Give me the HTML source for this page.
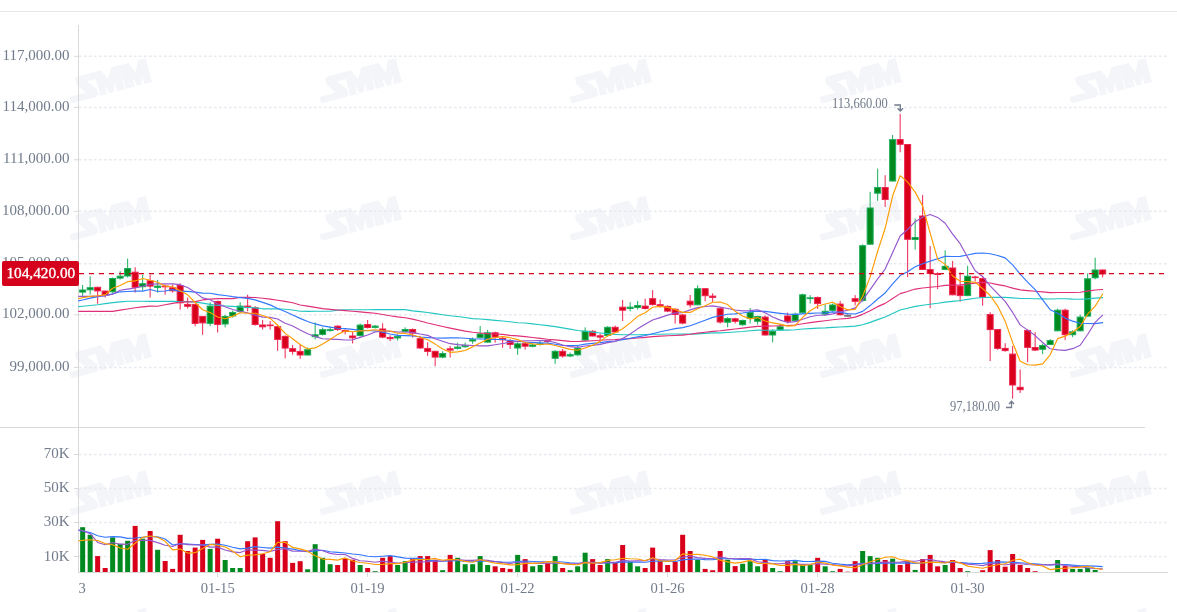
<!DOCTYPE html>
<html><head><meta charset="utf-8"><style>
html,body{margin:0;padding:0;background:#fff;width:1177px;height:612px;overflow:hidden}
svg{will-change:transform}
</style></head><body><div id="w">
<svg width="1177" height="612" viewBox="0 0 1177 612" style="display:block">
<rect width="1177" height="612" fill="#ffffff"/>
<defs><g id="wm"><path d="M-31,-13 L-7,-13 L-2,-2.7 L3.8,-13 L21.5,-13 L26.3,-2 L31.7,-13 L39.5,-13 L39.5,11.5 L-44,11.5 L-44,4.7 L-27.4,4.6 L-34,-6 L-34,-10 Q-34,-13 -31,-13 Z" fill="#f3f5f9"/><path d="M-22.9,-5.6 L-14,-5.8 L-14,11.6 L-15.6,11.6 L-15.6,3.8 Z M-15.2,6.5 Q-15.2,11.7 -21,11.7 L-15.2,11.7 Z M-44.2,11.7 L-44.2,9 L-43,11.7 Z M-7,2.2 L-4,11.6 L-7,11.6 Z M3.8,2.2 L3.8,11.6 L0,11.6 Z M12,-5.2 L12.8,11.6 L11.2,11.6 Z M21.5,2.1 L24.5,11.6 L21.5,11.6 Z M31.7,2.1 L31.7,11.6 L28.5,11.6 Z" fill="#ffffff"/></g></defs>
<use href="#wm" transform="translate(110.8,81) rotate(-15)"/>
<use href="#wm" transform="translate(360.8,81) rotate(-15)"/>
<use href="#wm" transform="translate(610.8,81) rotate(-15)"/>
<use href="#wm" transform="translate(860.8,81) rotate(-15)"/>
<use href="#wm" transform="translate(1110.8,81) rotate(-15)"/>
<use href="#wm" transform="translate(110.8,218.5) rotate(-15)"/>
<use href="#wm" transform="translate(360.8,218.5) rotate(-15)"/>
<use href="#wm" transform="translate(610.8,218.5) rotate(-15)"/>
<use href="#wm" transform="translate(860.8,218.5) rotate(-15)"/>
<use href="#wm" transform="translate(1110.8,218.5) rotate(-15)"/>
<use href="#wm" transform="translate(110.8,356) rotate(-15)"/>
<use href="#wm" transform="translate(360.8,356) rotate(-15)"/>
<use href="#wm" transform="translate(610.8,356) rotate(-15)"/>
<use href="#wm" transform="translate(860.8,356) rotate(-15)"/>
<use href="#wm" transform="translate(1110.8,356) rotate(-15)"/>
<use href="#wm" transform="translate(110.8,493) rotate(-15)"/>
<use href="#wm" transform="translate(360.8,493) rotate(-15)"/>
<use href="#wm" transform="translate(610.8,493) rotate(-15)"/>
<use href="#wm" transform="translate(860.8,493) rotate(-15)"/>
<use href="#wm" transform="translate(1110.8,493) rotate(-15)"/>
<use href="#wm" transform="translate(110.8,630.5) rotate(-15)"/>
<use href="#wm" transform="translate(360.8,630.5) rotate(-15)"/>
<use href="#wm" transform="translate(610.8,630.5) rotate(-15)"/>
<use href="#wm" transform="translate(860.8,630.5) rotate(-15)"/>
<use href="#wm" transform="translate(1110.8,630.5) rotate(-15)"/>
<rect x="0" y="11" width="1177" height="1" fill="#e6e6e6"/>
<g stroke="#e6e9ef" stroke-width="1.5" stroke-dasharray="2.6 2.4">
<line x1="79" y1="367.4" x2="1167" y2="367.4"/>
<line x1="79" y1="314.8" x2="1167" y2="314.8"/>
<line x1="79" y1="263.7" x2="1167" y2="263.7"/>
<line x1="79" y1="211.3" x2="1167" y2="211.3"/>
<line x1="79" y1="159.8" x2="1167" y2="159.8"/>
<line x1="79" y1="107.4" x2="1167" y2="107.4"/>
<line x1="79" y1="56.3" x2="1167" y2="56.3"/>
<line x1="79" y1="556.5" x2="1167" y2="556.5"/>
<line x1="79" y1="522.5" x2="1167" y2="522.5"/>
<line x1="79" y1="488.5" x2="1167" y2="488.5"/>
<line x1="79" y1="454.5" x2="1167" y2="454.5"/>
</g>
<g stroke="#d9d9d9" stroke-width="1">
<line x1="78.5" y1="25" x2="78.5" y2="573"/>
<line x1="0" y1="427.5" x2="1145" y2="427.5"/>
<line x1="78" y1="572.5" x2="1168" y2="572.5"/>
<line x1="74" y1="367.4" x2="78" y2="367.4"/>
<line x1="74" y1="314.8" x2="78" y2="314.8"/>
<line x1="74" y1="263.7" x2="78" y2="263.7"/>
<line x1="74" y1="211.3" x2="78" y2="211.3"/>
<line x1="74" y1="159.8" x2="78" y2="159.8"/>
<line x1="74" y1="107.4" x2="78" y2="107.4"/>
<line x1="74" y1="56.3" x2="78" y2="56.3"/>
<line x1="74" y1="556.5" x2="78" y2="556.5"/>
<line x1="74" y1="522.5" x2="78" y2="522.5"/>
<line x1="74" y1="488.5" x2="78" y2="488.5"/>
<line x1="74" y1="454.5" x2="78" y2="454.5"/>
<line x1="217.50" y1="573" x2="217.50" y2="577"/>
<line x1="367.50" y1="573" x2="367.50" y2="577"/>
<line x1="517.50" y1="573" x2="517.50" y2="577"/>
<line x1="667.50" y1="573" x2="667.50" y2="577"/>
<line x1="817.50" y1="573" x2="817.50" y2="577"/>
<line x1="967.50" y1="573" x2="967.50" y2="577"/>
</g>
<g fill="#717b8b" font-family="Liberation Serif, serif" font-size="15" text-anchor="end">
<text x="69.5" y="370.8">99,000.00</text>
<text x="69.5" y="318.2">102,000.00</text>
<text x="69.5" y="267.1">105,000.00</text>
<text x="69.5" y="214.7">108,000.00</text>
<text x="69.5" y="163.2">111,000.00</text>
<text x="69.5" y="110.8">114,000.00</text>
<text x="69.5" y="59.7">117,000.00</text>
<text x="69.5" y="560.5">10K</text>
<text x="69.5" y="526.4">30K</text>
<text x="69.5" y="492.2">50K</text>
<text x="69.5" y="458.0">70K</text>
</g>
<g fill="#717b8b" font-family="Liberation Serif, serif" font-size="14.6" text-anchor="middle">
<text x="217.7" y="592.5">01-15</text>
<text x="367.6" y="592.5">01-19</text>
<text x="517.6" y="592.5">01-22</text>
<text x="667.6" y="592.5">01-26</text>
<text x="817.6" y="592.5">01-28</text>
<text x="967.6" y="592.5">01-30</text>
<text x="78.5" y="592.5" text-anchor="start">3</text>
</g>
<g>
<line x1="82.65" y1="284.9" x2="82.65" y2="295.8" stroke="#1aae5c" stroke-width="1"/>
<rect x="79.65" y="290.00" width="6.0" height="2.10" fill="#00891e" stroke="#1aae5c" stroke-width="1"/>
<line x1="90.15" y1="276.3" x2="90.15" y2="294.6" stroke="#1aae5c" stroke-width="1"/>
<rect x="87.15" y="287.70" width="6.0" height="2.10" fill="#00891e" stroke="#1aae5c" stroke-width="1"/>
<line x1="97.65" y1="286.8" x2="97.65" y2="303.8" stroke="#ee2450" stroke-width="1"/>
<rect x="94.65" y="287.30" width="6.0" height="3.60" fill="#d8001a" stroke="#ee2450" stroke-width="1"/>
<line x1="105.15" y1="290.6" x2="105.15" y2="297.5" stroke="#ee2450" stroke-width="1"/>
<rect x="102.15" y="291.10" width="6.0" height="3.60" fill="#d8001a" stroke="#ee2450" stroke-width="1"/>
<line x1="112.65" y1="277.5" x2="112.65" y2="292.8" stroke="#1aae5c" stroke-width="1"/>
<rect x="109.65" y="278.50" width="6.0" height="13.30" fill="#00891e" stroke="#1aae5c" stroke-width="1"/>
<line x1="120.15" y1="271.2" x2="120.15" y2="279.5" stroke="#1aae5c" stroke-width="1"/>
<rect x="117.15" y="276.20" width="6.0" height="1.90" fill="#00891e" stroke="#1aae5c" stroke-width="1"/>
<line x1="127.65" y1="258.6" x2="127.65" y2="277.5" stroke="#1aae5c" stroke-width="1"/>
<rect x="124.65" y="268.50" width="6.0" height="7.50" fill="#00891e" stroke="#1aae5c" stroke-width="1"/>
<line x1="135.15" y1="267.2" x2="135.15" y2="292.6" stroke="#ee2450" stroke-width="1"/>
<rect x="132.15" y="272.20" width="6.0" height="15.10" fill="#d8001a" stroke="#ee2450" stroke-width="1"/>
<line x1="142.65" y1="274.6" x2="142.65" y2="290.6" stroke="#1aae5c" stroke-width="1"/>
<rect x="139.65" y="283.70" width="6.0" height="3.00" fill="#00891e" stroke="#1aae5c" stroke-width="1"/>
<line x1="150.15" y1="274.6" x2="150.15" y2="297.5" stroke="#ee2450" stroke-width="1"/>
<rect x="147.15" y="280.80" width="6.0" height="5.30" fill="#d8001a" stroke="#ee2450" stroke-width="1"/>
<line x1="157.65" y1="279.9" x2="157.65" y2="292.5" stroke="#1aae5c" stroke-width="1"/>
<rect x="154.65" y="286.10" width="6.0" height="1.30" fill="#00891e" stroke="#1aae5c" stroke-width="1"/>
<line x1="165.15" y1="284.5" x2="165.15" y2="294.7" stroke="#ee2450" stroke-width="1"/>
<rect x="162.15" y="286.10" width="6.0" height="0.70" fill="#d8001a" stroke="#ee2450" stroke-width="1"/>
<line x1="172.65" y1="284.5" x2="172.65" y2="292.5" stroke="#ee2450" stroke-width="1"/>
<rect x="169.65" y="287.80" width="6.0" height="3.00" fill="#d8001a" stroke="#ee2450" stroke-width="1"/>
<line x1="180.15" y1="283.3" x2="180.15" y2="309.6" stroke="#ee2450" stroke-width="1"/>
<rect x="177.15" y="285.50" width="6.0" height="17.30" fill="#d8001a" stroke="#ee2450" stroke-width="1"/>
<line x1="187.65" y1="297.6" x2="187.65" y2="308.5" stroke="#ee2450" stroke-width="1"/>
<rect x="184.65" y="304.40" width="6.0" height="1.90" fill="#d8001a" stroke="#ee2450" stroke-width="1"/>
<line x1="195.15" y1="303.9" x2="195.15" y2="326.2" stroke="#ee2450" stroke-width="1"/>
<rect x="192.15" y="304.40" width="6.0" height="19.00" fill="#d8001a" stroke="#ee2450" stroke-width="1"/>
<line x1="202.65" y1="315.9" x2="202.65" y2="334.8" stroke="#ee2450" stroke-width="1"/>
<rect x="199.65" y="316.40" width="6.0" height="6.50" fill="#d8001a" stroke="#ee2450" stroke-width="1"/>
<line x1="210.15" y1="302.2" x2="210.15" y2="326.2" stroke="#1aae5c" stroke-width="1"/>
<rect x="207.15" y="306.10" width="6.0" height="17.30" fill="#00891e" stroke="#1aae5c" stroke-width="1"/>
<line x1="217.65" y1="300.5" x2="217.65" y2="332.5" stroke="#ee2450" stroke-width="1"/>
<rect x="214.65" y="301.50" width="6.0" height="23.00" fill="#d8001a" stroke="#ee2450" stroke-width="1"/>
<line x1="225.15" y1="314.8" x2="225.15" y2="327.4" stroke="#1aae5c" stroke-width="1"/>
<rect x="222.15" y="316.40" width="6.0" height="7.60" fill="#00891e" stroke="#1aae5c" stroke-width="1"/>
<line x1="232.65" y1="310.7" x2="232.65" y2="317.6" stroke="#1aae5c" stroke-width="1"/>
<rect x="229.65" y="312.40" width="6.0" height="3.60" fill="#00891e" stroke="#1aae5c" stroke-width="1"/>
<line x1="240.15" y1="302.2" x2="240.15" y2="313.0" stroke="#1aae5c" stroke-width="1"/>
<rect x="237.15" y="306.10" width="6.0" height="5.30" fill="#00891e" stroke="#1aae5c" stroke-width="1"/>
<line x1="247.65" y1="294.7" x2="247.65" y2="311.3" stroke="#ee2450" stroke-width="1"/>
<rect x="244.65" y="306.10" width="6.0" height="1.30" fill="#d8001a" stroke="#ee2450" stroke-width="1"/>
<line x1="255.15" y1="306.2" x2="255.15" y2="325.6" stroke="#ee2450" stroke-width="1"/>
<rect x="252.15" y="307.80" width="6.0" height="16.70" fill="#d8001a" stroke="#ee2450" stroke-width="1"/>
<line x1="262.65" y1="319.9" x2="262.65" y2="329.6" stroke="#ee2450" stroke-width="1"/>
<rect x="259.65" y="325.00" width="6.0" height="1.80" fill="#d8001a" stroke="#ee2450" stroke-width="1"/>
<line x1="270.15" y1="321.0" x2="270.15" y2="329.6" stroke="#ee2450" stroke-width="1"/>
<rect x="267.15" y="325.00" width="6.0" height="0.70" fill="#d8001a" stroke="#ee2450" stroke-width="1"/>
<line x1="277.65" y1="325.6" x2="277.65" y2="350.8" stroke="#ee2450" stroke-width="1"/>
<rect x="274.65" y="326.70" width="6.0" height="12.70" fill="#d8001a" stroke="#ee2450" stroke-width="1"/>
<line x1="285.15" y1="335.3" x2="285.15" y2="358.4" stroke="#ee2450" stroke-width="1"/>
<rect x="282.15" y="336.40" width="6.0" height="11.70" fill="#d8001a" stroke="#ee2450" stroke-width="1"/>
<line x1="292.65" y1="345.0" x2="292.65" y2="354.7" stroke="#ee2450" stroke-width="1"/>
<rect x="289.65" y="348.70" width="6.0" height="2.70" fill="#d8001a" stroke="#ee2450" stroke-width="1"/>
<line x1="300.15" y1="344.6" x2="300.15" y2="358.9" stroke="#ee2450" stroke-width="1"/>
<rect x="297.15" y="351.40" width="6.0" height="3.60" fill="#d8001a" stroke="#ee2450" stroke-width="1"/>
<line x1="307.65" y1="347.5" x2="307.65" y2="355.5" stroke="#1aae5c" stroke-width="1"/>
<rect x="304.65" y="349.70" width="6.0" height="5.30" fill="#00891e" stroke="#1aae5c" stroke-width="1"/>
<line x1="315.15" y1="322.3" x2="315.15" y2="339.5" stroke="#1aae5c" stroke-width="1"/>
<rect x="312.15" y="334.80" width="6.0" height="1.90" fill="#00891e" stroke="#1aae5c" stroke-width="1"/>
<line x1="322.65" y1="327.5" x2="322.65" y2="335.5" stroke="#1aae5c" stroke-width="1"/>
<rect x="319.65" y="329.70" width="6.0" height="4.70" fill="#00891e" stroke="#1aae5c" stroke-width="1"/>
<line x1="330.15" y1="326.9" x2="330.15" y2="331.5" stroke="#1aae5c" stroke-width="1"/>
<rect x="327.15" y="329.70" width="6.0" height="0.90" fill="#00891e" stroke="#1aae5c" stroke-width="1"/>
<line x1="337.65" y1="325.2" x2="337.65" y2="330.9" stroke="#ee2450" stroke-width="1"/>
<rect x="334.65" y="326.20" width="6.0" height="3.30" fill="#d8001a" stroke="#ee2450" stroke-width="1"/>
<line x1="345.15" y1="329.2" x2="345.15" y2="334.3" stroke="#ee2450" stroke-width="1"/>
<rect x="342.15" y="330.50" width="6.0" height="1.00" fill="#d8001a" stroke="#ee2450" stroke-width="1"/>
<line x1="352.65" y1="332.0" x2="352.65" y2="343.5" stroke="#ee2450" stroke-width="1"/>
<rect x="349.65" y="336.00" width="6.0" height="1.80" fill="#d8001a" stroke="#ee2450" stroke-width="1"/>
<line x1="360.15" y1="323.5" x2="360.15" y2="336.6" stroke="#1aae5c" stroke-width="1"/>
<rect x="357.15" y="325.10" width="6.0" height="10.40" fill="#00891e" stroke="#1aae5c" stroke-width="1"/>
<line x1="367.65" y1="320.0" x2="367.65" y2="328.6" stroke="#ee2450" stroke-width="1"/>
<rect x="364.65" y="324.50" width="6.0" height="3.00" fill="#d8001a" stroke="#ee2450" stroke-width="1"/>
<line x1="375.15" y1="325.0" x2="375.15" y2="328.5" stroke="#1aae5c" stroke-width="1"/>
<rect x="372.15" y="326.10" width="6.0" height="1.30" fill="#00891e" stroke="#1aae5c" stroke-width="1"/>
<line x1="382.65" y1="323.3" x2="382.65" y2="338.2" stroke="#ee2450" stroke-width="1"/>
<rect x="379.65" y="329.00" width="6.0" height="8.10" fill="#d8001a" stroke="#ee2450" stroke-width="1"/>
<line x1="390.15" y1="335.3" x2="390.15" y2="341.0" stroke="#ee2450" stroke-width="1"/>
<rect x="387.15" y="337.50" width="6.0" height="1.10" fill="#d8001a" stroke="#ee2450" stroke-width="1"/>
<line x1="397.65" y1="334.2" x2="397.65" y2="340.5" stroke="#1aae5c" stroke-width="1"/>
<rect x="394.65" y="336.40" width="6.0" height="1.50" fill="#00891e" stroke="#1aae5c" stroke-width="1"/>
<line x1="405.15" y1="327.3" x2="405.15" y2="332.5" stroke="#1aae5c" stroke-width="1"/>
<rect x="402.15" y="329.50" width="6.0" height="1.90" fill="#00891e" stroke="#1aae5c" stroke-width="1"/>
<line x1="412.65" y1="328.5" x2="412.65" y2="337.6" stroke="#ee2450" stroke-width="1"/>
<rect x="409.65" y="329.50" width="6.0" height="3.60" fill="#d8001a" stroke="#ee2450" stroke-width="1"/>
<line x1="420.15" y1="335.9" x2="420.15" y2="349.0" stroke="#ee2450" stroke-width="1"/>
<rect x="417.15" y="338.70" width="6.0" height="9.30" fill="#d8001a" stroke="#ee2450" stroke-width="1"/>
<line x1="427.65" y1="342.2" x2="427.65" y2="355.9" stroke="#ee2450" stroke-width="1"/>
<rect x="424.65" y="348.40" width="6.0" height="3.00" fill="#d8001a" stroke="#ee2450" stroke-width="1"/>
<line x1="435.15" y1="350.8" x2="435.15" y2="366.2" stroke="#ee2450" stroke-width="1"/>
<rect x="432.15" y="351.30" width="6.0" height="5.80" fill="#d8001a" stroke="#ee2450" stroke-width="1"/>
<line x1="442.65" y1="351.3" x2="442.65" y2="358.2" stroke="#1aae5c" stroke-width="1"/>
<rect x="439.65" y="353.50" width="6.0" height="3.60" fill="#00891e" stroke="#1aae5c" stroke-width="1"/>
<line x1="450.15" y1="346.0" x2="450.15" y2="357.5" stroke="#ee2450" stroke-width="1"/>
<rect x="447.15" y="348.80" width="6.0" height="1.30" fill="#d8001a" stroke="#ee2450" stroke-width="1"/>
<line x1="457.65" y1="342.6" x2="457.65" y2="349.5" stroke="#1aae5c" stroke-width="1"/>
<rect x="454.65" y="347.10" width="6.0" height="1.30" fill="#00891e" stroke="#1aae5c" stroke-width="1"/>
<line x1="465.15" y1="342.6" x2="465.15" y2="347.8" stroke="#1aae5c" stroke-width="1"/>
<rect x="462.15" y="345.40" width="6.0" height="1.30" fill="#00891e" stroke="#1aae5c" stroke-width="1"/>
<line x1="472.65" y1="337.5" x2="472.65" y2="343.8" stroke="#1aae5c" stroke-width="1"/>
<rect x="469.65" y="339.70" width="6.0" height="1.30" fill="#00891e" stroke="#1aae5c" stroke-width="1"/>
<line x1="480.15" y1="326.0" x2="480.15" y2="338.6" stroke="#1aae5c" stroke-width="1"/>
<rect x="477.15" y="334.00" width="6.0" height="3.50" fill="#00891e" stroke="#1aae5c" stroke-width="1"/>
<line x1="487.65" y1="330.0" x2="487.65" y2="342.6" stroke="#1aae5c" stroke-width="1"/>
<rect x="484.65" y="332.80" width="6.0" height="9.30" fill="#00891e" stroke="#1aae5c" stroke-width="1"/>
<line x1="495.15" y1="331.7" x2="495.15" y2="342.6" stroke="#ee2450" stroke-width="1"/>
<rect x="492.15" y="332.80" width="6.0" height="4.20" fill="#d8001a" stroke="#ee2450" stroke-width="1"/>
<line x1="502.65" y1="336.9" x2="502.65" y2="347.8" stroke="#ee2450" stroke-width="1"/>
<rect x="499.65" y="338.50" width="6.0" height="1.30" fill="#d8001a" stroke="#ee2450" stroke-width="1"/>
<line x1="510.15" y1="339.2" x2="510.15" y2="348.9" stroke="#ee2450" stroke-width="1"/>
<rect x="507.15" y="340.80" width="6.0" height="3.60" fill="#d8001a" stroke="#ee2450" stroke-width="1"/>
<line x1="517.65" y1="342.2" x2="517.65" y2="354.8" stroke="#1aae5c" stroke-width="1"/>
<rect x="514.65" y="343.80" width="6.0" height="4.20" fill="#00891e" stroke="#1aae5c" stroke-width="1"/>
<line x1="525.15" y1="343.0" x2="525.15" y2="349.6" stroke="#ee2450" stroke-width="1"/>
<rect x="522.15" y="343.70" width="6.0" height="2.50" fill="#d8001a" stroke="#ee2450" stroke-width="1"/>
<line x1="532.65" y1="343.9" x2="532.65" y2="347.3" stroke="#1aae5c" stroke-width="1"/>
<rect x="529.65" y="345.00" width="6.0" height="1.30" fill="#00891e" stroke="#1aae5c" stroke-width="1"/>
<line x1="540.15" y1="341.0" x2="540.15" y2="345.6" stroke="#1aae5c" stroke-width="1"/>
<rect x="537.15" y="343.80" width="6.0" height="0.70" fill="#00891e" stroke="#1aae5c" stroke-width="1"/>
<line x1="547.65" y1="339.8" x2="547.65" y2="343.0" stroke="#ee2450" stroke-width="1"/>
<rect x="544.65" y="340.70" width="6.0" height="0.80" fill="#d8001a" stroke="#ee2450" stroke-width="1"/>
<line x1="555.15" y1="350.2" x2="555.15" y2="363.9" stroke="#1aae5c" stroke-width="1"/>
<rect x="552.15" y="351.30" width="6.0" height="7.00" fill="#00891e" stroke="#1aae5c" stroke-width="1"/>
<line x1="562.65" y1="349.0" x2="562.65" y2="357.6" stroke="#ee2450" stroke-width="1"/>
<rect x="559.65" y="351.30" width="6.0" height="4.70" fill="#d8001a" stroke="#ee2450" stroke-width="1"/>
<line x1="570.15" y1="352.5" x2="570.15" y2="357.1" stroke="#1aae5c" stroke-width="1"/>
<rect x="567.15" y="354.70" width="6.0" height="1.30" fill="#00891e" stroke="#1aae5c" stroke-width="1"/>
<line x1="577.65" y1="345.6" x2="577.65" y2="355.9" stroke="#1aae5c" stroke-width="1"/>
<rect x="574.65" y="348.40" width="6.0" height="6.40" fill="#00891e" stroke="#1aae5c" stroke-width="1"/>
<line x1="585.15" y1="327.3" x2="585.15" y2="341.0" stroke="#1aae5c" stroke-width="1"/>
<rect x="582.15" y="331.20" width="6.0" height="8.80" fill="#00891e" stroke="#1aae5c" stroke-width="1"/>
<line x1="592.65" y1="330.2" x2="592.65" y2="336.5" stroke="#ee2450" stroke-width="1"/>
<rect x="589.65" y="331.30" width="6.0" height="4.70" fill="#d8001a" stroke="#ee2450" stroke-width="1"/>
<line x1="600.15" y1="333.6" x2="600.15" y2="340.5" stroke="#ee2450" stroke-width="1"/>
<rect x="597.15" y="335.80" width="6.0" height="1.30" fill="#d8001a" stroke="#ee2450" stroke-width="1"/>
<line x1="607.65" y1="326.2" x2="607.65" y2="336.5" stroke="#1aae5c" stroke-width="1"/>
<rect x="604.65" y="327.30" width="6.0" height="8.10" fill="#00891e" stroke="#1aae5c" stroke-width="1"/>
<line x1="615.15" y1="325.6" x2="615.15" y2="332.5" stroke="#ee2450" stroke-width="1"/>
<rect x="612.15" y="327.30" width="6.0" height="4.70" fill="#d8001a" stroke="#ee2450" stroke-width="1"/>
<line x1="622.65" y1="299.9" x2="622.65" y2="321.0" stroke="#ee2450" stroke-width="1"/>
<rect x="619.65" y="307.20" width="6.0" height="3.00" fill="#d8001a" stroke="#ee2450" stroke-width="1"/>
<line x1="630.15" y1="302.2" x2="630.15" y2="311.3" stroke="#1aae5c" stroke-width="1"/>
<rect x="627.15" y="307.20" width="6.0" height="1.30" fill="#00891e" stroke="#1aae5c" stroke-width="1"/>
<line x1="637.65" y1="301.0" x2="637.65" y2="309.6" stroke="#1aae5c" stroke-width="1"/>
<rect x="634.65" y="305.50" width="6.0" height="1.90" fill="#00891e" stroke="#1aae5c" stroke-width="1"/>
<line x1="645.15" y1="298.7" x2="645.15" y2="309.6" stroke="#ee2450" stroke-width="1"/>
<rect x="642.15" y="306.10" width="6.0" height="2.40" fill="#d8001a" stroke="#ee2450" stroke-width="1"/>
<line x1="652.65" y1="290.1" x2="652.65" y2="305.6" stroke="#ee2450" stroke-width="1"/>
<rect x="649.65" y="298.70" width="6.0" height="5.80" fill="#d8001a" stroke="#ee2450" stroke-width="1"/>
<line x1="660.15" y1="299.6" x2="660.15" y2="307.6" stroke="#ee2450" stroke-width="1"/>
<rect x="657.15" y="304.70" width="6.0" height="1.30" fill="#d8001a" stroke="#ee2450" stroke-width="1"/>
<line x1="667.65" y1="305.3" x2="667.65" y2="312.2" stroke="#ee2450" stroke-width="1"/>
<rect x="664.65" y="306.40" width="6.0" height="4.70" fill="#d8001a" stroke="#ee2450" stroke-width="1"/>
<line x1="675.15" y1="308.2" x2="675.15" y2="323.6" stroke="#ee2450" stroke-width="1"/>
<rect x="672.15" y="309.30" width="6.0" height="5.20" fill="#d8001a" stroke="#ee2450" stroke-width="1"/>
<line x1="682.65" y1="313.9" x2="682.65" y2="324.2" stroke="#ee2450" stroke-width="1"/>
<rect x="679.65" y="315.00" width="6.0" height="8.10" fill="#d8001a" stroke="#ee2450" stroke-width="1"/>
<line x1="690.15" y1="295.0" x2="690.15" y2="307.6" stroke="#ee2450" stroke-width="1"/>
<rect x="687.15" y="301.20" width="6.0" height="3.60" fill="#d8001a" stroke="#ee2450" stroke-width="1"/>
<line x1="697.65" y1="285.3" x2="697.65" y2="305.3" stroke="#1aae5c" stroke-width="1"/>
<rect x="694.65" y="288.70" width="6.0" height="16.10" fill="#00891e" stroke="#1aae5c" stroke-width="1"/>
<line x1="705.15" y1="288.2" x2="705.15" y2="301.3" stroke="#ee2450" stroke-width="1"/>
<rect x="702.15" y="288.70" width="6.0" height="7.00" fill="#d8001a" stroke="#ee2450" stroke-width="1"/>
<line x1="712.65" y1="293.3" x2="712.65" y2="301.9" stroke="#ee2450" stroke-width="1"/>
<rect x="709.65" y="296.10" width="6.0" height="1.30" fill="#d8001a" stroke="#ee2450" stroke-width="1"/>
<line x1="720.15" y1="307.6" x2="720.15" y2="323.6" stroke="#ee2450" stroke-width="1"/>
<rect x="717.15" y="308.70" width="6.0" height="13.30" fill="#d8001a" stroke="#ee2450" stroke-width="1"/>
<line x1="727.65" y1="317.2" x2="727.65" y2="327.3" stroke="#1aae5c" stroke-width="1"/>
<rect x="724.65" y="318.60" width="6.0" height="3.60" fill="#00891e" stroke="#1aae5c" stroke-width="1"/>
<line x1="735.15" y1="317.8" x2="735.15" y2="323.5" stroke="#ee2450" stroke-width="1"/>
<rect x="732.15" y="318.80" width="6.0" height="2.50" fill="#d8001a" stroke="#ee2450" stroke-width="1"/>
<line x1="742.65" y1="319.5" x2="742.65" y2="325.8" stroke="#1aae5c" stroke-width="1"/>
<rect x="739.65" y="320.50" width="6.0" height="4.20" fill="#00891e" stroke="#1aae5c" stroke-width="1"/>
<line x1="750.15" y1="308.0" x2="750.15" y2="323.5" stroke="#1aae5c" stroke-width="1"/>
<rect x="747.15" y="312.50" width="6.0" height="5.90" fill="#00891e" stroke="#1aae5c" stroke-width="1"/>
<line x1="757.65" y1="315.5" x2="757.65" y2="324.6" stroke="#1aae5c" stroke-width="1"/>
<rect x="754.65" y="316.50" width="6.0" height="4.80" fill="#00891e" stroke="#1aae5c" stroke-width="1"/>
<line x1="765.15" y1="315.5" x2="765.15" y2="335.5" stroke="#ee2450" stroke-width="1"/>
<rect x="762.15" y="317.10" width="6.0" height="17.90" fill="#d8001a" stroke="#ee2450" stroke-width="1"/>
<line x1="772.65" y1="329.2" x2="772.65" y2="342.4" stroke="#1aae5c" stroke-width="1"/>
<rect x="769.65" y="331.40" width="6.0" height="3.60" fill="#00891e" stroke="#1aae5c" stroke-width="1"/>
<line x1="780.15" y1="324.0" x2="780.15" y2="330.9" stroke="#1aae5c" stroke-width="1"/>
<rect x="777.15" y="326.80" width="6.0" height="3.00" fill="#00891e" stroke="#1aae5c" stroke-width="1"/>
<line x1="787.65" y1="312.6" x2="787.65" y2="323.5" stroke="#ee2450" stroke-width="1"/>
<rect x="784.65" y="316.00" width="6.0" height="5.30" fill="#d8001a" stroke="#ee2450" stroke-width="1"/>
<line x1="795.15" y1="312.6" x2="795.15" y2="321.8" stroke="#1aae5c" stroke-width="1"/>
<rect x="792.15" y="314.30" width="6.0" height="6.40" fill="#00891e" stroke="#1aae5c" stroke-width="1"/>
<line x1="802.65" y1="293.7" x2="802.65" y2="313.2" stroke="#1aae5c" stroke-width="1"/>
<rect x="799.65" y="294.80" width="6.0" height="17.90" fill="#00891e" stroke="#1aae5c" stroke-width="1"/>
<line x1="810.15" y1="295.1" x2="810.15" y2="303.6" stroke="#1aae5c" stroke-width="1"/>
<rect x="807.15" y="297.80" width="6.0" height="0.80" fill="#00891e" stroke="#1aae5c" stroke-width="1"/>
<line x1="817.65" y1="296.4" x2="817.65" y2="309.0" stroke="#ee2450" stroke-width="1"/>
<rect x="814.65" y="297.50" width="6.0" height="6.10" fill="#d8001a" stroke="#ee2450" stroke-width="1"/>
<line x1="825.15" y1="304.5" x2="825.15" y2="315.5" stroke="#1aae5c" stroke-width="1"/>
<rect x="822.15" y="311.30" width="6.0" height="2.80" fill="#00891e" stroke="#1aae5c" stroke-width="1"/>
<line x1="832.65" y1="303.6" x2="832.65" y2="311.7" stroke="#1aae5c" stroke-width="1"/>
<rect x="829.65" y="305.00" width="6.0" height="5.30" fill="#00891e" stroke="#1aae5c" stroke-width="1"/>
<line x1="840.15" y1="300.9" x2="840.15" y2="315.3" stroke="#ee2450" stroke-width="1"/>
<rect x="837.15" y="304.10" width="6.0" height="10.70" fill="#d8001a" stroke="#ee2450" stroke-width="1"/>
<line x1="847.65" y1="314.2" x2="847.65" y2="317.0" stroke="#7a7a7a" stroke-width="1"/>
<rect x="844.65" y="315.20" width="6.0" height="1.00" fill="#7a7a7a" stroke="#7a7a7a" stroke-width="1"/>
<line x1="855.15" y1="295.1" x2="855.15" y2="305.4" stroke="#ee2450" stroke-width="1"/>
<rect x="852.15" y="298.70" width="6.0" height="2.60" fill="#d8001a" stroke="#ee2450" stroke-width="1"/>
<line x1="862.65" y1="244.3" x2="862.65" y2="301.8" stroke="#1aae5c" stroke-width="1"/>
<rect x="859.65" y="245.70" width="6.0" height="54.70" fill="#00891e" stroke="#1aae5c" stroke-width="1"/>
<line x1="870.15" y1="191.8" x2="870.15" y2="244.7" stroke="#1aae5c" stroke-width="1"/>
<rect x="867.15" y="208.00" width="6.0" height="36.20" fill="#00891e" stroke="#1aae5c" stroke-width="1"/>
<line x1="877.65" y1="168.6" x2="877.65" y2="200.8" stroke="#1aae5c" stroke-width="1"/>
<rect x="874.65" y="187.50" width="6.0" height="5.70" fill="#00891e" stroke="#1aae5c" stroke-width="1"/>
<line x1="885.15" y1="175.2" x2="885.15" y2="207.0" stroke="#ee2450" stroke-width="1"/>
<rect x="882.15" y="187.50" width="6.0" height="12.00" fill="#d8001a" stroke="#ee2450" stroke-width="1"/>
<line x1="892.65" y1="135.0" x2="892.65" y2="181.5" stroke="#1aae5c" stroke-width="1"/>
<rect x="889.65" y="139.60" width="6.0" height="41.40" fill="#00891e" stroke="#1aae5c" stroke-width="1"/>
<line x1="900.15" y1="113.8" x2="900.15" y2="152.2" stroke="#ee2450" stroke-width="1"/>
<rect x="897.15" y="139.60" width="6.0" height="4.70" fill="#d8001a" stroke="#ee2450" stroke-width="1"/>
<line x1="907.65" y1="144.0" x2="907.65" y2="277.2" stroke="#ee2450" stroke-width="1"/>
<rect x="904.65" y="144.50" width="6.0" height="94.80" fill="#d8001a" stroke="#ee2450" stroke-width="1"/>
<line x1="915.15" y1="218.5" x2="915.15" y2="249.6" stroke="#1aae5c" stroke-width="1"/>
<rect x="912.15" y="237.50" width="6.0" height="2.00" fill="#00891e" stroke="#1aae5c" stroke-width="1"/>
<line x1="922.65" y1="195.0" x2="922.65" y2="270.0" stroke="#ee2450" stroke-width="1"/>
<rect x="919.65" y="216.00" width="6.0" height="53.50" fill="#d8001a" stroke="#ee2450" stroke-width="1"/>
<line x1="930.15" y1="246.0" x2="930.15" y2="308.3" stroke="#ee2450" stroke-width="1"/>
<rect x="927.15" y="269.60" width="6.0" height="3.90" fill="#d8001a" stroke="#ee2450" stroke-width="1"/>
<line x1="937.65" y1="272.3" x2="937.65" y2="289.2" stroke="#ee2450" stroke-width="1"/>
<rect x="934.65" y="273.70" width="6.0" height="0.80" fill="#d8001a" stroke="#ee2450" stroke-width="1"/>
<line x1="945.15" y1="250.3" x2="945.15" y2="269.9" stroke="#1aae5c" stroke-width="1"/>
<rect x="942.15" y="266.30" width="6.0" height="3.10" fill="#00891e" stroke="#1aae5c" stroke-width="1"/>
<line x1="952.65" y1="261.0" x2="952.65" y2="295.3" stroke="#ee2450" stroke-width="1"/>
<rect x="949.65" y="268.00" width="6.0" height="26.80" fill="#d8001a" stroke="#ee2450" stroke-width="1"/>
<line x1="960.15" y1="272.4" x2="960.15" y2="301.8" stroke="#ee2450" stroke-width="1"/>
<rect x="957.15" y="286.00" width="6.0" height="9.60" fill="#d8001a" stroke="#ee2450" stroke-width="1"/>
<line x1="967.65" y1="265.8" x2="967.65" y2="296.1" stroke="#1aae5c" stroke-width="1"/>
<rect x="964.65" y="276.20" width="6.0" height="19.40" fill="#00891e" stroke="#1aae5c" stroke-width="1"/>
<line x1="975.15" y1="275.7" x2="975.15" y2="281.4" stroke="#ee2450" stroke-width="1"/>
<rect x="972.15" y="277.00" width="6.0" height="0.60" fill="#d8001a" stroke="#ee2450" stroke-width="1"/>
<line x1="982.65" y1="277.3" x2="982.65" y2="305.7" stroke="#ee2450" stroke-width="1"/>
<rect x="979.65" y="278.60" width="6.0" height="18.60" fill="#d8001a" stroke="#ee2450" stroke-width="1"/>
<line x1="990.15" y1="312.2" x2="990.15" y2="361.1" stroke="#ee2450" stroke-width="1"/>
<rect x="987.15" y="314.60" width="6.0" height="15.00" fill="#d8001a" stroke="#ee2450" stroke-width="1"/>
<line x1="997.65" y1="329.1" x2="997.65" y2="349.8" stroke="#ee2450" stroke-width="1"/>
<rect x="994.65" y="329.60" width="6.0" height="18.80" fill="#d8001a" stroke="#ee2450" stroke-width="1"/>
<line x1="1005.15" y1="343.2" x2="1005.15" y2="351.7" stroke="#ee2450" stroke-width="1"/>
<rect x="1002.15" y="348.40" width="6.0" height="2.20" fill="#d8001a" stroke="#ee2450" stroke-width="1"/>
<line x1="1012.65" y1="346.0" x2="1012.65" y2="398.7" stroke="#ee2450" stroke-width="1"/>
<rect x="1009.65" y="354.10" width="6.0" height="30.90" fill="#d8001a" stroke="#ee2450" stroke-width="1"/>
<line x1="1020.15" y1="369.5" x2="1020.15" y2="393.0" stroke="#ee2450" stroke-width="1"/>
<rect x="1017.15" y="387.30" width="6.0" height="2.40" fill="#d8001a" stroke="#ee2450" stroke-width="1"/>
<line x1="1027.65" y1="329.1" x2="1027.65" y2="362.0" stroke="#ee2450" stroke-width="1"/>
<rect x="1024.65" y="330.60" width="6.0" height="16.80" fill="#d8001a" stroke="#ee2450" stroke-width="1"/>
<line x1="1035.15" y1="332.2" x2="1035.15" y2="350.9" stroke="#ee2450" stroke-width="1"/>
<rect x="1032.15" y="347.50" width="6.0" height="2.60" fill="#d8001a" stroke="#ee2450" stroke-width="1"/>
<line x1="1042.65" y1="343.6" x2="1042.65" y2="354.2" stroke="#1aae5c" stroke-width="1"/>
<rect x="1039.65" y="345.50" width="6.0" height="3.80" fill="#00891e" stroke="#1aae5c" stroke-width="1"/>
<line x1="1050.15" y1="339.1" x2="1050.15" y2="345.0" stroke="#1aae5c" stroke-width="1"/>
<rect x="1047.15" y="340.60" width="6.0" height="3.90" fill="#00891e" stroke="#1aae5c" stroke-width="1"/>
<line x1="1057.65" y1="308.7" x2="1057.65" y2="331.3" stroke="#1aae5c" stroke-width="1"/>
<rect x="1054.65" y="310.20" width="6.0" height="20.60" fill="#00891e" stroke="#1aae5c" stroke-width="1"/>
<line x1="1065.15" y1="308.7" x2="1065.15" y2="340.1" stroke="#ee2450" stroke-width="1"/>
<rect x="1062.15" y="310.20" width="6.0" height="24.50" fill="#d8001a" stroke="#ee2450" stroke-width="1"/>
<line x1="1072.65" y1="330.3" x2="1072.65" y2="337.2" stroke="#1aae5c" stroke-width="1"/>
<rect x="1069.65" y="331.80" width="6.0" height="2.90" fill="#00891e" stroke="#1aae5c" stroke-width="1"/>
<line x1="1080.15" y1="314.6" x2="1080.15" y2="331.3" stroke="#1aae5c" stroke-width="1"/>
<rect x="1077.15" y="317.10" width="6.0" height="13.70" fill="#00891e" stroke="#1aae5c" stroke-width="1"/>
<line x1="1087.65" y1="273.4" x2="1087.65" y2="316.6" stroke="#1aae5c" stroke-width="1"/>
<rect x="1084.65" y="278.80" width="6.0" height="37.30" fill="#00891e" stroke="#1aae5c" stroke-width="1"/>
<line x1="1095.15" y1="257.7" x2="1095.15" y2="279.3" stroke="#1aae5c" stroke-width="1"/>
<rect x="1092.15" y="270.00" width="6.0" height="7.80" fill="#00891e" stroke="#1aae5c" stroke-width="1"/>
<line x1="1102.65" y1="269.5" x2="1102.65" y2="277.4" stroke="#ee2450" stroke-width="1"/>
<rect x="1099.65" y="270.00" width="6.0" height="3.90" fill="#d8001a" stroke="#ee2450" stroke-width="1"/>
</g>
<g fill="none" stroke-width="1.15" stroke-linejoin="round" stroke-linecap="round">
<path d="M78.60,306.64 L82.65,306.29 L90.15,305.54 L97.65,304.73 L105.15,303.66 L112.65,302.60 L120.15,301.85 L127.65,301.26 L135.15,301.28 L142.65,301.29 L150.15,301.31 L157.65,301.32 L165.15,301.35 L172.65,301.38 L180.15,301.50 L187.65,301.61 L195.15,301.82 L202.65,303.12 L210.15,304.39 L217.65,305.48 L225.15,305.95 L232.65,306.44 L240.15,306.98 L247.65,307.45 L255.15,307.82 L262.65,308.80 L270.15,308.80 L277.65,308.80 L285.15,309.21 L292.65,309.95 L300.15,311.26 L307.65,311.34 L315.15,311.30 L322.65,311.26 L330.15,311.22 L337.65,310.07 L345.15,309.73 L352.65,309.73 L360.15,309.73 L367.65,309.73 L375.15,309.68 L382.65,309.58 L390.15,309.58 L397.65,309.58 L405.15,309.62 L412.65,310.81 L420.15,311.56 L427.65,312.53 L435.15,313.66 L442.65,314.79 L450.15,315.79 L457.65,316.54 L465.15,317.50 L472.65,318.60 L480.15,318.97 L487.65,319.58 L495.15,320.37 L502.65,321.01 L510.15,321.79 L517.65,322.74 L525.15,322.95 L532.65,323.87 L540.15,324.80 L547.65,325.64 L555.15,326.57 L562.65,327.88 L570.15,329.19 L577.65,330.52 L585.15,331.23 L592.65,332.12 L600.15,332.97 L607.65,333.66 L615.15,334.41 L622.65,334.73 L630.15,334.79 L637.65,334.76 L645.15,334.51 L652.65,334.21 L660.15,334.22 L667.65,334.00 L675.15,333.98 L682.65,334.18 L690.15,334.17 L697.65,333.84 L705.15,333.36 L712.65,332.88 L720.15,332.81 L727.65,332.45 L735.15,332.00 L742.65,331.47 L750.15,330.75 L757.65,330.19 L765.15,330.21 L772.65,330.24 L780.15,330.19 L787.65,330.06 L795.15,329.75 L802.65,329.02 L810.15,328.56 L817.65,328.17 L825.15,327.92 L832.65,327.37 L840.15,326.97 L847.65,326.62 L855.15,326.16 L862.65,324.69 L870.15,322.34 L877.65,319.59 L885.15,316.97 L892.65,313.40 L900.15,309.97 L907.65,308.19 L915.15,306.39 L922.65,305.24 L930.15,304.25 L937.65,303.29 L945.15,302.10 L952.65,301.35 L960.15,300.53 L967.65,299.41 L975.15,298.26 L982.65,297.48 L990.15,297.26 L997.65,297.38 L1005.15,297.38 L1012.65,297.87 L1020.15,298.47 L1027.65,298.47 L1035.15,298.80 L1042.65,298.94 L1050.15,298.98 L1057.65,298.70 L1065.15,298.74 L1072.65,299.09 L1080.15,299.25 L1087.65,298.81 L1095.15,298.15 L1102.65,297.64" stroke="#22c6c2"/>
<path d="M78.60,311.44 L82.65,311.44 L90.15,311.44 L97.65,311.44 L105.15,311.44 L112.65,311.39 L120.15,310.19 L127.65,308.99 L135.15,307.79 L142.65,306.85 L150.15,306.09 L157.65,306.24 L165.15,304.81 L172.65,303.37 L180.15,302.17 L187.65,301.90 L195.15,301.64 L202.65,299.94 L210.15,299.18 L217.65,298.60 L225.15,298.52 L232.65,298.68 L240.15,297.36 L247.65,297.36 L255.15,297.54 L262.65,298.22 L270.15,299.09 L277.65,300.21 L285.15,301.34 L292.65,302.77 L300.15,305.04 L307.65,306.09 L315.15,307.34 L322.65,308.59 L330.15,309.34 L337.65,309.99 L345.15,310.64 L352.65,311.29 L360.15,311.94 L367.65,312.59 L375.15,313.27 L382.65,314.48 L390.15,315.77 L397.65,316.88 L405.15,317.73 L412.65,319.12 L420.15,320.94 L427.65,323.04 L435.15,324.78 L442.65,326.53 L450.15,328.13 L457.65,329.65 L465.15,331.09 L472.65,332.29 L480.15,333.04 L487.65,333.68 L495.15,334.02 L502.65,334.44 L510.15,335.43 L517.65,335.88 L525.15,336.65 L532.65,337.47 L540.15,338.41 L547.65,339.26 L555.15,339.91 L562.65,340.64 L570.15,341.34 L577.65,341.54 L585.15,341.09 L592.65,340.71 L600.15,340.26 L607.65,339.70 L615.15,339.66 L622.65,339.19 L630.15,338.63 L637.65,338.00 L645.15,337.43 L652.65,336.60 L660.15,336.14 L667.65,335.74 L675.15,335.47 L682.65,335.12 L690.15,334.27 L697.65,333.08 L705.15,332.26 L712.65,331.37 L720.15,330.72 L727.65,329.88 L735.15,328.98 L742.65,328.16 L750.15,327.19 L757.65,326.43 L765.15,326.19 L772.65,325.98 L780.15,325.80 L787.65,325.54 L795.15,324.95 L802.65,323.80 L810.15,322.61 L817.65,321.63 L825.15,320.73 L832.65,319.73 L840.15,319.03 L847.65,318.35 L855.15,317.12 L862.65,314.34 L870.15,310.67 L877.65,306.65 L885.15,303.38 L892.65,298.45 L900.15,293.63 L907.65,291.45 L915.15,289.06 L922.65,288.05 L930.15,287.23 L937.65,286.48 L945.15,285.40 L952.65,285.16 L960.15,284.90 L967.65,284.00 L975.15,283.08 L982.65,282.43 L990.15,283.05 L997.65,284.57 L1005.15,285.94 L1012.65,288.13 L1020.15,289.82 L1027.65,290.57 L1035.15,291.29 L1042.65,291.91 L1050.15,292.61 L1057.65,292.46 L1065.15,292.45 L1072.65,292.46 L1080.15,292.22 L1087.65,291.13 L1095.15,290.02 L1102.65,289.52" stroke="#df2f78"/>
<path d="M78.60,300.92 L82.65,300.04 L90.15,298.16 L97.65,296.63 L105.15,295.80 L112.65,293.83 L120.15,291.81 L127.65,291.48 L135.15,291.19 L142.65,291.07 L150.15,289.49 L157.65,291.52 L165.15,291.04 L172.65,289.64 L180.15,291.33 L187.65,291.44 L195.15,292.19 L202.65,293.15 L210.15,293.21 L217.65,294.62 L225.15,295.53 L232.65,296.65 L240.15,297.57 L247.65,298.40 L255.15,299.89 L262.65,302.36 L270.15,304.88 L277.65,308.48 L285.15,311.51 L292.65,314.95 L300.15,318.39 L307.65,321.57 L315.15,323.93 L322.65,325.82 L330.15,327.11 L337.65,328.27 L345.15,328.68 L352.65,329.43 L360.15,330.38 L367.65,330.53 L375.15,331.01 L382.65,332.30 L390.15,333.97 L397.65,335.37 L405.15,335.57 L412.65,335.89 L420.15,337.00 L427.65,337.60 L435.15,338.05 L442.65,338.11 L450.15,337.86 L457.65,337.73 L465.15,338.26 L472.65,338.76 L480.15,338.98 L487.65,339.09 L495.15,339.37 L502.65,339.47 L510.15,340.48 L517.65,341.25 L525.15,342.30 L532.65,342.64 L540.15,342.86 L547.65,343.16 L555.15,344.25 L562.65,345.40 L570.15,345.68 L577.65,345.48 L585.15,344.13 L592.65,343.31 L600.15,342.66 L607.65,341.67 L615.15,341.05 L622.65,339.62 L630.15,338.28 L637.65,336.92 L645.15,335.50 L652.65,333.73 L660.15,331.81 L667.65,330.23 L675.15,328.64 L682.65,327.60 L690.15,325.70 L697.65,323.00 L705.15,320.27 L712.65,317.34 L720.15,315.76 L727.65,314.27 L735.15,313.82 L742.65,313.00 L750.15,311.72 L757.65,311.18 L765.15,311.33 L772.65,312.34 L780.15,313.32 L787.65,314.16 L795.15,314.40 L802.65,313.87 L810.15,313.41 L817.65,313.03 L825.15,312.82 L832.65,311.87 L840.15,312.37 L847.65,313.69 L855.15,313.97 L862.65,311.34 L870.15,305.58 L877.65,299.03 L885.15,292.94 L892.65,283.89 L900.15,275.53 L907.65,271.73 L915.15,266.80 L922.65,263.75 L930.15,261.14 L937.65,258.80 L945.15,256.40 L952.65,256.45 L960.15,256.39 L967.65,254.97 L975.15,253.34 L982.65,253.00 L990.15,253.74 L997.65,255.45 L1005.15,257.91 L1012.65,264.93 L1020.15,274.06 L1027.65,282.11 L1035.15,289.63 L1042.65,299.93 L1050.15,309.70 L1057.65,313.19 L1065.15,318.10 L1072.65,321.17 L1080.15,323.30 L1087.65,323.46 L1095.15,323.65 L1102.65,322.60" stroke="#3377ff"/>
<path d="M78.60,296.34 L82.65,296.34 L90.15,296.34 L97.65,296.20 L105.15,295.78 L112.65,294.23 L120.15,290.25 L127.65,289.09 L135.15,287.99 L142.65,286.27 L150.15,284.26 L157.65,283.87 L165.15,283.88 L172.65,283.87 L180.15,284.68 L187.65,287.56 L195.15,292.38 L202.65,297.92 L210.15,299.70 L217.65,303.88 L225.15,306.81 L232.65,309.44 L240.15,311.27 L247.65,312.93 L255.15,315.10 L262.65,317.15 L270.15,317.38 L277.65,319.03 L285.15,323.33 L292.65,326.02 L300.15,329.98 L307.65,333.71 L315.15,336.58 L322.65,338.71 L330.15,339.13 L337.65,339.40 L345.15,339.98 L352.65,339.82 L360.15,337.42 L367.65,335.03 L375.15,332.04 L382.65,330.88 L390.15,331.36 L397.65,332.03 L405.15,332.01 L412.65,332.37 L420.15,334.02 L427.65,335.38 L435.15,338.68 L442.65,341.18 L450.15,343.68 L457.65,344.58 L465.15,345.16 L472.65,345.49 L480.15,345.94 L487.65,345.81 L495.15,344.71 L502.65,343.55 L510.15,342.28 L517.65,341.31 L525.15,340.92 L532.65,340.71 L540.15,340.55 L547.65,340.83 L555.15,342.56 L562.65,344.98 L570.15,346.65 L577.65,347.41 L585.15,345.99 L592.65,345.31 L600.15,344.40 L607.65,342.63 L615.15,341.55 L622.65,338.42 L630.15,334.01 L637.65,328.86 L645.15,324.34 L652.65,320.05 L660.15,317.63 L667.65,315.14 L675.15,312.88 L682.65,312.56 L690.15,309.84 L697.65,307.59 L705.15,306.54 L712.65,305.83 L720.15,307.18 L727.65,308.49 L735.15,310.02 L742.65,310.86 L750.15,310.56 L757.65,309.80 L765.15,312.82 L772.65,317.09 L780.15,320.10 L787.65,322.49 L795.15,321.62 L802.65,319.24 L810.15,316.79 L817.65,315.20 L825.15,315.08 L832.65,313.93 L840.15,311.91 L847.65,310.29 L855.15,307.84 L862.65,300.18 L870.15,289.55 L877.65,278.82 L885.15,269.09 L892.65,252.59 L900.15,235.99 L907.65,229.52 L915.15,221.69 L922.65,217.22 L930.15,214.44 L937.65,217.42 L945.15,223.25 L952.65,234.08 L960.15,243.69 L967.65,257.35 L975.15,270.68 L982.65,276.47 L990.15,285.78 L997.65,293.67 L1005.15,301.38 L1012.65,312.43 L1020.15,324.87 L1027.65,330.13 L1035.15,335.58 L1042.65,342.51 L1050.15,348.71 L1057.65,349.91 L1065.15,350.42 L1072.65,348.66 L1080.15,345.21 L1087.65,334.49 L1095.15,322.42 L1102.65,315.07" stroke="#9656cc"/>
<path d="M78.60,298.63 L82.65,297.71 L90.15,296.44 L97.65,295.73 L105.15,294.81 L112.65,288.26 L120.15,285.50 L127.65,281.66 L135.15,280.94 L142.65,278.54 L150.15,280.26 L157.65,282.24 L165.15,286.10 L172.65,286.80 L180.15,290.82 L187.65,294.86 L195.15,302.52 L202.65,309.74 L210.15,312.60 L217.65,316.94 L225.15,318.76 L232.65,316.36 L240.15,312.80 L247.65,313.26 L255.15,313.26 L262.65,315.54 L270.15,318.40 L277.65,325.26 L285.15,333.40 L292.65,338.78 L300.15,344.42 L307.65,349.02 L315.15,347.90 L322.65,344.02 L330.15,339.48 L337.65,334.38 L345.15,330.94 L352.65,331.74 L360.15,330.82 L367.65,330.58 L375.15,329.70 L382.65,330.82 L390.15,330.98 L397.65,333.24 L405.15,333.44 L412.65,335.04 L420.15,337.22 L427.65,339.78 L435.15,344.12 L442.65,348.92 L450.15,352.32 L457.65,351.94 L465.15,350.54 L472.65,346.86 L480.15,342.96 L487.65,339.30 L495.15,337.48 L502.65,336.56 L510.15,337.70 L517.65,339.66 L525.15,342.54 L532.65,343.94 L540.15,344.54 L547.65,343.96 L555.15,345.46 L562.65,347.42 L570.15,349.36 L577.65,350.28 L585.15,348.02 L592.65,345.16 L600.15,341.38 L607.65,335.90 L615.15,332.82 L622.65,328.82 L630.15,322.86 L637.65,316.34 L645.15,312.78 L652.65,307.28 L660.15,306.44 L667.65,307.42 L675.15,309.42 L682.65,312.34 L690.15,312.40 L697.65,308.74 L705.15,305.66 L712.65,302.24 L720.15,302.02 L727.65,304.58 L735.15,311.30 L742.65,316.06 L750.15,318.88 L757.65,317.58 L765.15,321.06 L772.65,322.88 L780.15,324.14 L787.65,326.10 L795.15,325.66 L802.65,317.42 L810.15,310.70 L817.65,306.26 L825.15,304.06 L832.65,302.20 L840.15,306.40 L847.65,309.88 L855.15,309.42 L862.65,296.30 L870.15,276.90 L877.65,251.24 L885.15,228.30 L892.65,195.76 L900.15,175.68 L907.65,182.14 L915.15,192.14 L922.65,206.14 L930.15,233.12 L937.65,259.16 L945.15,264.36 L952.65,276.02 L960.15,281.24 L967.65,281.58 L975.15,282.20 L982.65,288.58 L990.15,295.54 L997.65,306.10 L1005.15,321.18 L1012.65,342.66 L1020.15,361.16 L1027.65,364.72 L1035.15,365.06 L1042.65,363.84 L1050.15,354.76 L1057.65,338.66 L1065.15,336.12 L1072.65,332.26 L1080.15,326.58 L1087.65,314.22 L1095.15,306.18 L1102.65,294.02" stroke="#ff9c00"/>
</g>
<line x1="78.9" y1="273.6" x2="1167" y2="273.6" stroke="#d7001a" stroke-width="1.3" stroke-dasharray="5.1 4.9"/>
<rect x="2" y="261" width="77" height="25" rx="2" fill="#d5001b"/>
<text x="40.8" y="277.6" fill="#ffffff" stroke="#ffffff" stroke-width="0.35" font-family="Liberation Serif, serif" font-size="15.3" text-anchor="middle">104,420.00</text>
<g fill="#717b8b" font-family="Liberation Serif, serif" font-size="14" text-anchor="end">
<text transform="translate(887.8,107.9) scale(0.895,1)">113,660.00</text>
<text transform="translate(1000.1,411) scale(0.895,1)">97,180.00</text>
</g>
<g fill="none" stroke="#717b8b" stroke-width="1.3">
<path d="M894.3,105 H900.3 V110.8 M897.6,108.2 L900.3,111 L903,108.2"/>
<path d="M1006,407.5 H1011.5 V401.5 M1009,404 L1011.5,401.2 L1014,404"/>
</g>
<g>
<rect x="80.15" y="527.2" width="5" height="44.8" fill="#00891e"/>
<rect x="87.65" y="534.8" width="5" height="37.2" fill="#00891e"/>
<rect x="95.15" y="556.1" width="5" height="15.9" fill="#d8001a"/>
<rect x="102.65" y="568.0" width="5" height="4.0" fill="#d8001a"/>
<rect x="110.15" y="537.4" width="5" height="34.6" fill="#00891e"/>
<rect x="117.65" y="543.8" width="5" height="28.2" fill="#00891e"/>
<rect x="125.15" y="540.8" width="5" height="31.2" fill="#00891e"/>
<rect x="132.65" y="525.9" width="5" height="46.1" fill="#d8001a"/>
<rect x="140.15" y="538.7" width="5" height="33.3" fill="#00891e"/>
<rect x="147.65" y="531.0" width="5" height="41.0" fill="#d8001a"/>
<rect x="155.15" y="549.8" width="5" height="22.2" fill="#00891e"/>
<rect x="162.65" y="561.0" width="5" height="11.0" fill="#d8001a"/>
<rect x="170.15" y="568.9" width="5" height="3.1" fill="#d8001a"/>
<rect x="177.65" y="534.8" width="5" height="37.2" fill="#d8001a"/>
<rect x="185.15" y="551.0" width="5" height="21.0" fill="#d8001a"/>
<rect x="192.65" y="547.6" width="5" height="24.4" fill="#d8001a"/>
<rect x="200.15" y="539.9" width="5" height="32.1" fill="#d8001a"/>
<rect x="207.65" y="548.9" width="5" height="23.1" fill="#00891e"/>
<rect x="215.15" y="538.7" width="5" height="33.3" fill="#d8001a"/>
<rect x="222.65" y="560.0" width="5" height="12.0" fill="#00891e"/>
<rect x="230.15" y="568.0" width="5" height="4.0" fill="#00891e"/>
<rect x="237.65" y="568.0" width="5" height="4.0" fill="#00891e"/>
<rect x="245.15" y="541.2" width="5" height="30.8" fill="#d8001a"/>
<rect x="252.65" y="537.4" width="5" height="34.6" fill="#d8001a"/>
<rect x="260.15" y="554.0" width="5" height="18.0" fill="#d8001a"/>
<rect x="267.65" y="557.8" width="5" height="14.2" fill="#d8001a"/>
<rect x="275.15" y="521.2" width="5" height="50.8" fill="#d8001a"/>
<rect x="282.65" y="541.2" width="5" height="30.8" fill="#d8001a"/>
<rect x="290.15" y="562.9" width="5" height="9.1" fill="#d8001a"/>
<rect x="297.65" y="561.2" width="5" height="10.8" fill="#d8001a"/>
<rect x="305.15" y="569.3" width="5" height="2.7" fill="#00891e"/>
<rect x="312.65" y="544.2" width="5" height="27.8" fill="#00891e"/>
<rect x="320.15" y="557.8" width="5" height="14.2" fill="#00891e"/>
<rect x="327.65" y="564.2" width="5" height="7.8" fill="#00891e"/>
<rect x="335.15" y="565.0" width="5" height="7.0" fill="#d8001a"/>
<rect x="342.65" y="558.4" width="5" height="13.6" fill="#d8001a"/>
<rect x="350.15" y="559.7" width="5" height="12.3" fill="#d8001a"/>
<rect x="357.65" y="565.0" width="5" height="7.0" fill="#00891e"/>
<rect x="365.15" y="568.0" width="5" height="4.0" fill="#d8001a"/>
<rect x="372.65" y="571.2" width="5" height="0.8" fill="#00891e"/>
<rect x="380.15" y="557.8" width="5" height="14.2" fill="#d8001a"/>
<rect x="387.65" y="556.1" width="5" height="15.9" fill="#d8001a"/>
<rect x="395.15" y="565.0" width="5" height="7.0" fill="#00891e"/>
<rect x="402.65" y="561.2" width="5" height="10.8" fill="#00891e"/>
<rect x="410.15" y="559.1" width="5" height="12.9" fill="#d8001a"/>
<rect x="417.65" y="556.1" width="5" height="15.9" fill="#d8001a"/>
<rect x="425.15" y="556.1" width="5" height="15.9" fill="#d8001a"/>
<rect x="432.65" y="559.7" width="5" height="12.3" fill="#d8001a"/>
<rect x="440.15" y="570.2" width="5" height="1.8" fill="#00891e"/>
<rect x="447.65" y="554.9" width="5" height="17.1" fill="#d8001a"/>
<rect x="455.15" y="557.8" width="5" height="14.2" fill="#00891e"/>
<rect x="462.65" y="564.2" width="5" height="7.8" fill="#00891e"/>
<rect x="470.15" y="564.2" width="5" height="7.8" fill="#00891e"/>
<rect x="477.65" y="556.1" width="5" height="15.9" fill="#00891e"/>
<rect x="485.15" y="565.0" width="5" height="7.0" fill="#00891e"/>
<rect x="492.65" y="566.3" width="5" height="5.7" fill="#d8001a"/>
<rect x="500.15" y="568.0" width="5" height="4.0" fill="#d8001a"/>
<rect x="507.65" y="568.9" width="5" height="3.1" fill="#d8001a"/>
<rect x="515.15" y="554.9" width="5" height="17.1" fill="#00891e"/>
<rect x="522.65" y="559.1" width="5" height="12.9" fill="#d8001a"/>
<rect x="530.15" y="566.3" width="5" height="5.7" fill="#00891e"/>
<rect x="537.65" y="565.0" width="5" height="7.0" fill="#00891e"/>
<rect x="545.15" y="562.9" width="5" height="9.1" fill="#d8001a"/>
<rect x="552.65" y="556.1" width="5" height="15.9" fill="#00891e"/>
<rect x="560.15" y="568.0" width="5" height="4.0" fill="#d8001a"/>
<rect x="567.65" y="570.2" width="5" height="1.8" fill="#00891e"/>
<rect x="575.15" y="566.3" width="5" height="5.7" fill="#00891e"/>
<rect x="582.65" y="552.7" width="5" height="19.3" fill="#00891e"/>
<rect x="590.15" y="559.1" width="5" height="12.9" fill="#d8001a"/>
<rect x="597.65" y="565.0" width="5" height="7.0" fill="#d8001a"/>
<rect x="605.15" y="559.1" width="5" height="12.9" fill="#00891e"/>
<rect x="612.65" y="562.9" width="5" height="9.1" fill="#d8001a"/>
<rect x="620.15" y="545.0" width="5" height="27.0" fill="#d8001a"/>
<rect x="627.65" y="561.6" width="5" height="10.4" fill="#00891e"/>
<rect x="635.15" y="566.3" width="5" height="5.7" fill="#00891e"/>
<rect x="642.65" y="568.0" width="5" height="4.0" fill="#d8001a"/>
<rect x="650.15" y="547.6" width="5" height="24.4" fill="#d8001a"/>
<rect x="657.65" y="560.3" width="5" height="11.7" fill="#d8001a"/>
<rect x="665.15" y="565.0" width="5" height="7.0" fill="#d8001a"/>
<rect x="672.65" y="561.6" width="5" height="10.4" fill="#d8001a"/>
<rect x="680.15" y="534.8" width="5" height="37.2" fill="#d8001a"/>
<rect x="687.65" y="551.0" width="5" height="21.0" fill="#d8001a"/>
<rect x="695.15" y="559.7" width="5" height="12.3" fill="#00891e"/>
<rect x="702.65" y="568.9" width="5" height="3.1" fill="#d8001a"/>
<rect x="710.15" y="570.2" width="5" height="1.8" fill="#d8001a"/>
<rect x="717.65" y="551.0" width="5" height="21.0" fill="#d8001a"/>
<rect x="725.15" y="559.7" width="5" height="12.3" fill="#00891e"/>
<rect x="732.65" y="566.1" width="5" height="5.9" fill="#d8001a"/>
<rect x="740.15" y="563.8" width="5" height="8.2" fill="#00891e"/>
<rect x="747.65" y="561.2" width="5" height="10.8" fill="#00891e"/>
<rect x="755.15" y="566.3" width="5" height="5.7" fill="#00891e"/>
<rect x="762.65" y="560.0" width="5" height="12.0" fill="#d8001a"/>
<rect x="770.15" y="568.0" width="5" height="4.0" fill="#00891e"/>
<rect x="777.65" y="571.2" width="5" height="0.8" fill="#00891e"/>
<rect x="785.15" y="561.2" width="5" height="10.8" fill="#d8001a"/>
<rect x="792.65" y="561.2" width="5" height="10.8" fill="#00891e"/>
<rect x="800.15" y="565.0" width="5" height="7.0" fill="#00891e"/>
<rect x="807.65" y="565.0" width="5" height="7.0" fill="#00891e"/>
<rect x="815.15" y="557.8" width="5" height="14.2" fill="#d8001a"/>
<rect x="822.65" y="566.3" width="5" height="5.7" fill="#00891e"/>
<rect x="830.15" y="571.2" width="5" height="0.8" fill="#00891e"/>
<rect x="837.65" y="568.9" width="5" height="3.1" fill="#d8001a"/>
<rect x="845.15" y="571.2" width="5" height="0.8" fill="#f3a0a8"/>
<rect x="852.65" y="561.2" width="5" height="10.8" fill="#d8001a"/>
<rect x="860.15" y="551.0" width="5" height="21.0" fill="#00891e"/>
<rect x="867.65" y="556.1" width="5" height="15.9" fill="#00891e"/>
<rect x="875.15" y="557.8" width="5" height="14.2" fill="#00891e"/>
<rect x="882.65" y="560.0" width="5" height="12.0" fill="#d8001a"/>
<rect x="890.15" y="558.7" width="5" height="13.3" fill="#00891e"/>
<rect x="897.65" y="565.0" width="5" height="7.0" fill="#d8001a"/>
<rect x="905.15" y="561.6" width="5" height="10.4" fill="#d8001a"/>
<rect x="912.65" y="569.9" width="5" height="2.1" fill="#00891e"/>
<rect x="920.15" y="559.1" width="5" height="12.9" fill="#d8001a"/>
<rect x="927.65" y="554.9" width="5" height="17.1" fill="#d8001a"/>
<rect x="935.15" y="566.3" width="5" height="5.7" fill="#d8001a"/>
<rect x="942.65" y="565.0" width="5" height="7.0" fill="#00891e"/>
<rect x="950.15" y="560.0" width="5" height="12.0" fill="#d8001a"/>
<rect x="957.65" y="568.0" width="5" height="4.0" fill="#d8001a"/>
<rect x="965.15" y="571.2" width="5" height="0.8" fill="#00891e"/>
<rect x="980.15" y="570.2" width="5" height="1.8" fill="#d8001a"/>
<rect x="987.65" y="550.1" width="5" height="21.9" fill="#d8001a"/>
<rect x="995.15" y="560.0" width="5" height="12.0" fill="#d8001a"/>
<rect x="1002.65" y="566.7" width="5" height="5.3" fill="#d8001a"/>
<rect x="1010.15" y="554.0" width="5" height="18.0" fill="#d8001a"/>
<rect x="1017.65" y="565.0" width="5" height="7.0" fill="#d8001a"/>
<rect x="1025.15" y="568.0" width="5" height="4.0" fill="#d8001a"/>
<rect x="1032.65" y="571.2" width="5" height="0.8" fill="#d8001a"/>
<rect x="1055.15" y="560.0" width="5" height="12.0" fill="#00891e"/>
<rect x="1062.65" y="566.1" width="5" height="5.9" fill="#d8001a"/>
<rect x="1070.15" y="568.9" width="5" height="3.1" fill="#00891e"/>
<rect x="1077.65" y="568.9" width="5" height="3.1" fill="#00891e"/>
<rect x="1085.15" y="567.6" width="5" height="4.4" fill="#00891e"/>
<rect x="1092.65" y="569.9" width="5" height="2.1" fill="#00891e"/>
</g>
<g fill="none" stroke-width="1.15" stroke-linejoin="round">
<path d="M78.60,530.39 L82.65,531.02 L90.15,532.59 L97.65,535.80 L105.15,537.25 L112.65,536.57 L120.15,536.90 L127.65,538.40 L135.15,538.05 L142.65,537.29 L150.15,536.54 L157.65,536.91 L165.15,539.07 L172.65,544.97 L180.15,543.76 L187.65,544.14 L195.15,544.51 L202.65,544.88 L210.15,544.43 L217.65,544.06 L225.15,545.21 L232.65,547.25 L240.15,548.91 L247.65,548.17 L255.15,546.64 L262.65,547.47 L270.15,548.17 L277.65,547.19 L285.15,547.96 L292.65,549.17 L300.15,550.68 L307.65,551.65 L315.15,550.81 L322.65,550.25 L330.15,551.73 L337.65,552.42 L345.15,552.97 L352.65,553.96 L360.15,554.76 L367.65,556.23 L375.15,556.79 L382.65,556.27 L390.15,555.68 L397.65,556.87 L405.15,558.06 L412.65,558.32 L420.15,558.23 L427.65,559.98 L435.15,560.90 L442.65,561.27 L450.15,560.95 L457.65,560.38 L465.15,561.38 L472.65,561.70 L480.15,561.29 L487.65,561.29 L495.15,561.68 L502.65,562.10 L510.15,562.29 L517.65,561.64 L525.15,561.03 L532.65,561.46 L540.15,561.90 L547.65,561.80 L555.15,561.54 L562.65,561.99 L570.15,562.70 L577.65,563.21 L585.15,562.86 L592.65,562.30 L600.15,562.81 L607.65,562.87 L615.15,562.81 L622.65,561.85 L630.15,562.12 L637.65,562.19 L645.15,562.27 L652.65,561.25 L660.15,560.82 L667.65,561.33 L675.15,561.45 L682.65,559.87 L690.15,559.17 L697.65,559.01 L705.15,559.65 L712.65,559.77 L720.15,558.81 L727.65,558.48 L735.15,559.15 L742.65,559.38 L750.15,559.19 L757.65,559.55 L765.15,559.40 L772.65,560.56 L780.15,561.04 L787.65,560.78 L795.15,560.44 L802.65,561.31 L810.15,561.55 L817.65,561.19 L825.15,561.42 L832.65,563.24 L840.15,564.13 L847.65,564.71 L855.15,564.33 L862.65,563.37 L870.15,563.62 L877.65,563.53 L885.15,563.22 L892.65,562.97 L900.15,563.15 L907.65,562.92 L915.15,563.42 L922.65,562.97 L930.15,562.15 L937.65,562.41 L945.15,562.60 L952.65,562.35 L960.15,562.50 L967.65,563.17 L975.15,563.46 L982.65,563.40 L990.15,562.47 L997.65,561.90 L1005.15,562.18 L1012.65,562.33 L1020.15,562.77 L1027.65,563.29 L1035.15,563.85 L1042.65,564.51 L1050.15,564.86 L1057.65,564.78 L1065.15,564.59 L1072.65,565.08 L1080.15,565.78 L1087.65,565.85 L1095.15,566.09 L1102.65,566.69" stroke="#3377ff"/>
<path d="M78.60,529.75 L82.65,530.81 L90.15,533.68 L97.65,542.44 L105.15,544.79 L112.65,542.48 L120.15,544.19 L127.65,544.36 L135.15,540.54 L142.65,540.31 L150.15,540.37 L157.65,542.63 L165.15,545.25 L172.65,546.53 L180.15,543.21 L187.65,544.57 L195.15,544.95 L202.65,544.86 L210.15,547.16 L217.65,547.16 L225.15,550.06 L232.65,551.88 L240.15,552.58 L247.65,549.81 L255.15,550.07 L262.65,550.37 L270.15,551.39 L277.65,549.52 L285.15,548.75 L292.65,551.17 L300.15,551.29 L307.65,551.42 L315.15,549.04 L322.65,550.70 L330.15,553.38 L337.65,554.48 L345.15,554.54 L352.65,558.39 L360.15,560.77 L367.65,561.28 L375.15,562.28 L382.65,561.13 L390.15,562.32 L397.65,563.04 L405.15,562.74 L412.65,562.15 L420.15,561.92 L427.65,561.56 L435.15,561.03 L442.65,561.25 L450.15,559.62 L457.65,559.62 L465.15,560.43 L472.65,560.35 L480.15,559.84 L487.65,560.43 L495.15,561.45 L502.65,562.64 L510.15,563.56 L517.65,562.03 L525.15,562.45 L532.65,563.30 L540.15,563.38 L547.65,563.25 L555.15,563.25 L562.65,563.55 L570.15,563.94 L577.65,563.77 L585.15,562.15 L592.65,562.57 L600.15,563.16 L607.65,562.44 L615.15,562.23 L622.65,560.44 L630.15,560.99 L637.65,560.82 L645.15,560.60 L652.65,558.73 L660.15,559.49 L667.65,560.08 L675.15,559.74 L682.65,557.31 L690.15,556.12 L697.65,557.59 L705.15,558.32 L712.65,558.71 L720.15,557.01 L727.65,558.22 L735.15,558.80 L742.65,558.68 L750.15,558.64 L757.65,561.79 L765.15,562.69 L772.65,563.52 L780.15,563.75 L787.65,562.85 L795.15,563.87 L802.65,564.40 L810.15,564.29 L817.65,563.69 L825.15,564.20 L832.65,564.69 L840.15,565.58 L847.65,565.90 L855.15,564.90 L862.65,563.88 L870.15,563.37 L877.65,562.65 L885.15,562.15 L892.65,562.24 L900.15,562.11 L907.65,561.15 L915.15,561.25 L922.65,560.04 L930.15,559.41 L937.65,560.94 L945.15,561.83 L952.65,562.05 L960.15,562.85 L967.65,564.10 L975.15,564.80 L982.65,565.66 L990.15,563.68 L997.65,563.77 L1005.15,564.95 L1012.65,563.72 L1020.15,563.72 L1027.65,564.52 L1035.15,564.84 L1042.65,564.92 L1050.15,564.92 L1057.65,563.90 L1065.15,565.50 L1072.65,566.39 L1080.15,566.61 L1087.65,567.97 L1095.15,568.46 L1102.65,568.86" stroke="#9656cc"/>
<path d="M78.60,540.58 L82.65,540.40 L90.15,539.80 L97.65,540.46 L105.15,543.56 L112.65,544.70 L120.15,548.02 L127.65,549.22 L135.15,543.18 L142.65,537.32 L150.15,536.04 L157.65,537.24 L165.15,541.28 L172.65,549.88 L180.15,549.10 L187.65,553.10 L195.15,552.66 L202.65,548.44 L210.15,544.44 L217.65,545.22 L225.15,547.02 L232.65,551.10 L240.15,556.72 L247.65,555.18 L255.15,554.92 L262.65,553.72 L270.15,551.68 L277.65,542.32 L285.15,542.32 L292.65,547.42 L300.15,548.86 L307.65,551.16 L315.15,555.76 L322.65,559.08 L330.15,559.34 L337.65,560.10 L345.15,557.92 L352.65,561.02 L360.15,562.46 L367.65,563.22 L375.15,564.46 L382.65,564.34 L390.15,563.62 L397.65,563.62 L405.15,562.26 L412.65,559.84 L420.15,559.50 L427.65,559.50 L435.15,558.44 L442.65,560.24 L450.15,559.40 L457.65,559.74 L465.15,561.36 L472.65,562.26 L480.15,559.44 L487.65,561.46 L495.15,563.16 L502.65,563.92 L510.15,564.86 L517.65,564.62 L525.15,563.44 L532.65,563.44 L540.15,562.84 L547.65,561.64 L555.15,561.88 L562.65,563.66 L570.15,564.44 L577.65,564.70 L585.15,562.66 L592.65,563.26 L600.15,562.66 L607.65,560.44 L615.15,559.76 L622.65,558.22 L630.15,558.72 L637.65,558.98 L645.15,560.76 L652.65,557.70 L660.15,560.76 L667.65,561.44 L675.15,560.50 L682.65,553.86 L690.15,554.54 L697.65,554.42 L705.15,555.20 L712.65,556.92 L720.15,560.16 L727.65,561.90 L735.15,563.18 L742.65,562.16 L750.15,560.36 L757.65,563.42 L765.15,563.48 L772.65,563.86 L780.15,565.34 L787.65,565.34 L795.15,564.32 L802.65,565.32 L810.15,564.72 L817.65,562.04 L825.15,563.06 L832.65,565.06 L840.15,565.84 L847.65,567.08 L855.15,567.76 L862.65,564.70 L870.15,561.68 L877.65,559.46 L885.15,557.22 L892.65,556.72 L900.15,559.52 L907.65,560.62 L915.15,563.04 L922.65,562.86 L930.15,562.10 L937.65,562.36 L945.15,563.04 L952.65,561.06 L960.15,562.84 L967.65,566.10 L975.15,567.24 L982.65,568.28 L990.15,566.30 L997.65,564.70 L1005.15,563.80 L1012.65,560.20 L1020.15,559.16 L1027.65,562.74 L1035.15,564.98 L1042.65,566.04 L1050.15,569.64 L1057.65,568.64 L1065.15,568.26 L1072.65,567.80 L1080.15,567.18 L1087.65,566.30 L1095.15,568.28 L1102.65,569.46" stroke="#ff9c00"/>
</g>
</svg>
</div></body></html>
